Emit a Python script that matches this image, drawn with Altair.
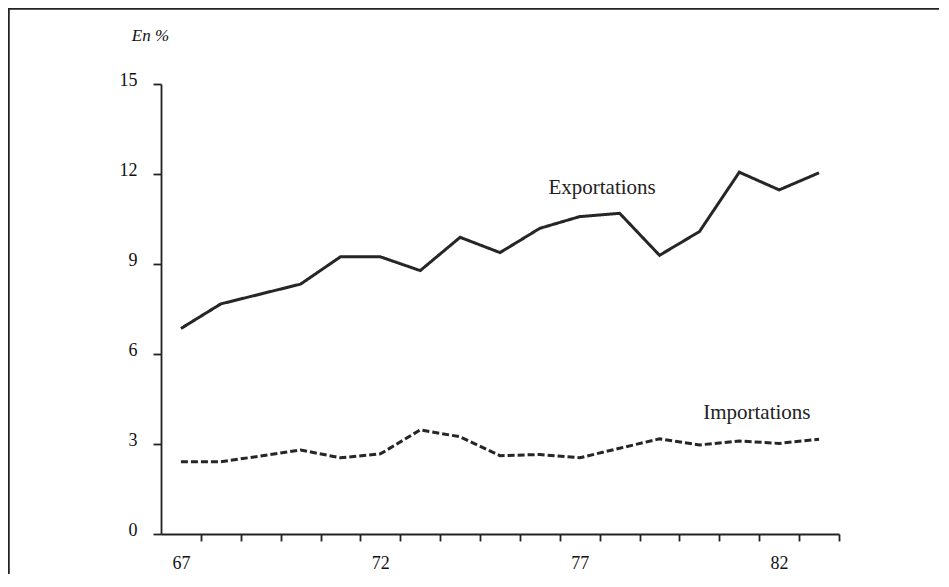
import altair as alt
import pandas as pd

years = list(range(67, 84))
exportations = [6.85, 7.67, 8.0, 8.33, 9.24, 9.24, 8.78, 9.89, 9.38, 10.19, 10.58, 10.69, 9.29, 10.08, 12.06, 11.47, 12.04]
importations = [2.41, 2.41, 2.6, 2.8, 2.54, 2.67, 3.47, 3.24, 2.61, 2.65, 2.54, 2.86, 3.17, 2.97, 3.1, 3.02, 3.16]

x_ticks = [y + 0.5 for y in range(67, 84)]
y_ticks = [0, 3, 6, 9, 12, 15]

label_names = ["Exportations", "Importations"]
label_x = [77.56, 81.44]
label_y = [11.53, 4.03]

df = pd.DataFrame({"annee": years * 2,
                   "valeur": exportations + importations,
                   "serie": ["Exportations"] * len(years) + ["Importations"] * len(years)})
lab = pd.DataFrame({"nom": label_names, "x": label_x, "y": label_y})

FONT = "Liberation Serif"
W, H = 678, 450

xscale = alt.Scale(domain=[66.5, 83.5], nice=False, zero=False)
yscale = alt.Scale(domain=[0, 15], nice=False)

xaxis = alt.Axis(values=x_ticks, title=None, grid=False, tickSize=7, tickColor="#222",
                 domainColor="#222", domainWidth=1.8, tickWidth=1.8,
                 labelExpr="(datum.value - 0.5) % 5 == 2 ? format(datum.value - 0.5, 'd') : ''",
                 labelOffset=-20, labelPadding=13, labelOverlap=False,
                 labelFont=FONT, labelFontSize=18, labelColor="#111")
yaxis = alt.Axis(values=y_ticks, title="En %", titleAngle=0, titleFont=FONT,
                 titleFontStyle="italic", titleFontWeight="normal", titleFontSize=17,
                 titleColor="#111", titleX=-11, titleY=-49, titleAlign="center",
                 titleBaseline="middle", grid=False, tickSize=8, tickColor="#222",
                 domainColor="#222", domainWidth=1.8, tickWidth=1.8,
                 labelPadding=16, labelOffset=-4, labelFont=FONT, labelFontSize=18,
                 labelColor="#111")

lines = alt.Chart(df).mark_line(color="#262626", strokeWidth=3).encode(
    x=alt.X("annee:Q", scale=xscale, axis=xaxis),
    y=alt.Y("valeur:Q", scale=yscale, axis=yaxis),
    strokeDash=alt.StrokeDash("serie:N", scale=alt.Scale(domain=label_names, range=[[1, 0], [7, 3]]), legend=None),
    detail="serie:N",
)

texts = alt.Chart(lab).mark_text(font=FONT, fontSize=21, color="#222", align="center", baseline="middle").encode(
    x=alt.X("x:Q", scale=xscale),
    y=alt.Y("y:Q", scale=yscale),
    text="nom:N",
)

border_top = alt.Chart(lab).mark_rule(color="#222", strokeWidth=1.6, clip=False).encode(
    x=alt.value(-153), x2=alt.value(800), y=alt.value(-75.2))
border_left = alt.Chart(lab).mark_rule(color="#222", strokeWidth=1.6, clip=False).encode(
    x=alt.value(-152.3), y=alt.value(-76), y2=alt.value(520))

chart = alt.layer(lines, texts, border_top, border_left).properties(
    width=W, height=H,
    autosize=alt.AutoSizeParams(type="none"),
    padding={"left": 153, "top": 76, "right": 100, "bottom": 40},
).configure(background="white").configure_view(stroke=None)

chart.save("out.html", embed_options={"renderer": "svg", "actions": False})
